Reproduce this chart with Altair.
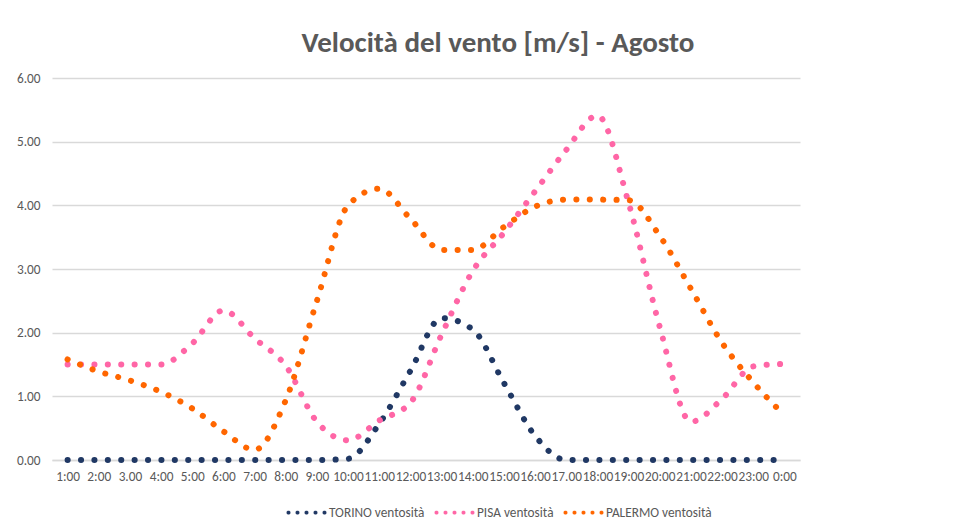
import math
import altair as alt
import pandas as pd

hours = ["1:00", "2:00", "3.00", "4:00", "5:00", "6:00", "7:00", "8:00", "9:00", "10:00",
         "11:00", "12:00", "13:00", "14:00", "15:00", "16:00", "17.00", "18:00", "19:00",
         "20:00", "21:00", "22:00", "23:00", "0:00"]

torino = [0, 0, 0, 0, 0, 0, 0, 0, 0, 0.02, 0.57, 1.40, 2.23, 2.05, 1.21, 0.38,
          0, 0, 0, 0, 0, 0, 0, 0]
pisa = [1.50, 1.50, 1.50, 1.50, 1.83, 2.35, 1.91, 1.48, 0.60, 0.31, 0.62, 0.90,
        1.97, 2.97, 3.57, 4.22, 4.87, 5.41, 4.04, 2.09, 0.60, 0.96, 1.47, 1.51]
palermo = [1.58, 1.39, 1.25, 1.07, 0.81, 0.45, 0.16, 0.94, 2.50, 4.00, 4.26, 3.79,
           3.30, 3.30, 3.66, 3.98, 4.09, 4.09, 4.08, 3.52, 2.69, 1.84, 1.22, 0.70]

series_names = ["TORINO ventosità", "PISA ventosità", "PALERMO ventosità"]
series_colors = ["#203864", "#FF66A6", "#FF6600"]
y_ticks = [0, 1, 2, 3, 4, 5, 6]

rows = []
for name, vals in zip(series_names, [torino, pisa, palermo]):
    for h, v in zip(hours, vals):
        rows.append({"ora": h, "serie": name, "valore": v})
df = pd.DataFrame(rows)

FONT = "Carlito, Lato, sans-serif"
GREY = "#595959"

# legend symbol: five small roundish (octagon) dots in the unit box
rad = 0.05
def octagon(cx):
    pts = [(cx + rad * math.cos(math.radians(22.5 + 45 * k)),
            rad * math.sin(math.radians(22.5 + 45 * k))) for k in range(8)]
    return "M" + " L".join(f"{x:.4f},{y:.4f}" for x, y in pts) + " Z"

dots_path = " ".join(octagon(cx) for cx in [-1, -0.5, 0, 0.5, 1])

chart = alt.Chart(df).mark_line(
    interpolate="monotone",
    strokeDash=[0.1, 13.3],
    strokeCap="round",
    strokeWidth=6,
).encode(
    x=alt.X("ora:N", sort=hours,
            scale=alt.Scale(type="point", padding=0.5),
            axis=alt.Axis(title=None, labelAngle=0, labelOverlap=False, labelBound=False,
                          ticks=False, domain=True, domainColor="#D9D9D9", domainWidth=1.3,
                          labelFont=FONT, labelFontSize=13.3, labelColor=GREY, labelPadding=9,
                          grid=False)),
    y=alt.Y("valore:Q",
            scale=alt.Scale(domain=[0, 6], nice=False),
            axis=alt.Axis(title=None, values=y_ticks, format=".2f", ticks=False, domain=False,
                          gridColor="#D9D9D9", gridWidth=1.3,
                          labelFont=FONT, labelFontSize=13.3, labelColor=GREY, labelPadding=12)),
    color=alt.Color("serie:N",
                    scale=alt.Scale(domain=series_names, range=series_colors),
                    legend=alt.Legend(title=None, orient="none", legendX=235, legendY=415,
                                      direction="horizontal",
                                      symbolType=dots_path, symbolSize=1296,
                                      symbolStrokeWidth=2.2, symbolDash=[1, 0],
                                      labelFont=FONT, labelFontSize=13.3, labelColor=GREY,
                                      labelOffset=3, columnPadding=6)),
).properties(
    width=748,
    height=382,
    title=alt.TitleParams("Velocità del vento [m/s] - Agosto", anchor="middle", dx=72,
                          font=FONT, fontSize=29, fontWeight="bold", color=GREY, offset=13),
    autosize=alt.AutoSizeParams(type="none"),
    padding={"left": 44, "top": 70, "right": 165, "bottom": 66},
).configure_view(stroke=None)

chart.save("out.html", embed_options={"renderer": "svg", "actions": False})
